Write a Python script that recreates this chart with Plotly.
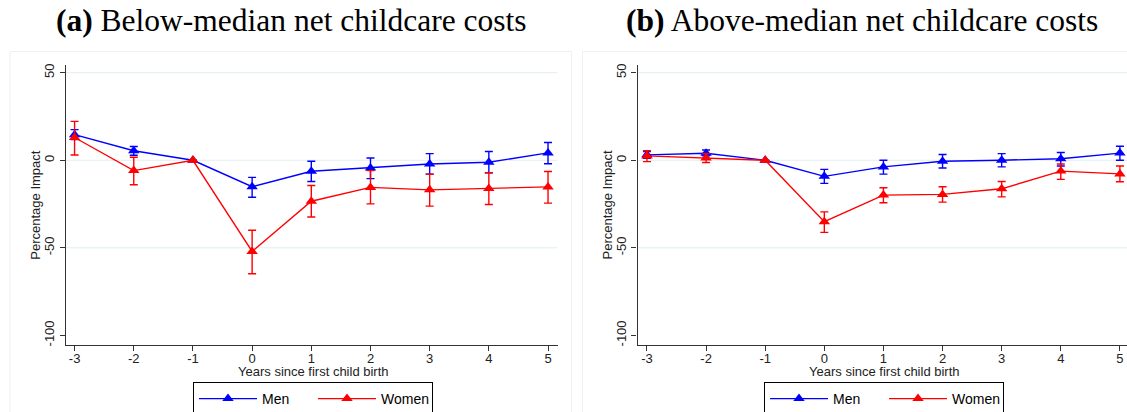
import plotly.graph_objects as go

# Event-study estimates (percentage impact) by years since first child birth
years = [-3, -2, -1, 0, 1, 2, 3, 4, 5]
x_ticks = [-3, -2, -1, 0, 1, 2, 3, 4, 5]
x_tick_labels = ["-3", "-2", "-1", "0", "1", "2", "3", "4", "5"]
y_ticks = [50, 0, -50, -100]
y_tick_labels = ["50", "0", "-50", "-100"]
grid_vals = [50, 0, -50]

# Panel (a): below-median net childcare costs
a_men = [14.6, 5.4, 0, -15.1, -6.3, -4.4, -2.1, -1.1, 4.2]
a_men_hi = [17.5, 7.9, 0, -9.8, -0.6, 1.3, 3.8, 5.0, 10.1]
a_men_lo = [11.8, 2.9, 0, -21.1, -12.1, -10.5, -7.9, -7.1, -2.0]
a_women = [13.0, -5.9, 0, -52.1, -23.4, -15.5, -16.9, -16.1, -15.2]
a_women_hi = [22.2, 1.7, 0, -40.0, -14.4, -5.9, -7.9, -7.1, -6.4]
a_women_lo = [3.0, -14.0, 0, -64.8, -32.4, -24.9, -26.2, -25.3, -24.5]

# Panel (b): above-median net childcare costs
b_men = [3.1, 4.0, 0, -9.2, -3.8, -0.6, 0.0, 0.9, 4.1]
b_men_hi = [5.0, 5.9, 0, -5.2, 0.0, 3.3, 3.8, 4.4, 8.0]
b_men_lo = [1.1, 2.5, 0, -13.2, -7.9, -4.4, -3.8, -3.3, 0.0]
b_women = [2.5, 1.3, 0, -35.1, -19.9, -19.5, -16.3, -6.2, -7.8]
b_women_hi = [5.4, 3.8, 0, -29.5, -15.7, -15.1, -12.1, -2.1, -3.3]
b_women_lo = [-0.8, -1.3, 0, -41.2, -24.3, -23.9, -20.9, -10.9, -12.3]

titles = ["<b>(a)</b> Below-median net childcare costs",
          "<b>(b)</b> Above-median net childcare costs"]
x_title = "Years since first child birth"
y_title = "Percentage Impact"
series_names = ["Men", "Women"]

BLUE = "#0000ff"
RED = "#ff0000"
W, H = 1127, 412
SANS = "Liberation Sans, Arial, sans-serif"
SERIF = "Liberation Serif, Times New Roman, serif"


def px(v):
    return v / W


def py(v):
    return 1 - v / H


panels = [
    dict(xa="x", ya="y", legend="legend", dom=[px(65.7), px(557.5)],
         xr=[-3.15, 5.16], data=[(a_men, a_men_hi, a_men_lo), (a_women, a_women_hi, a_women_lo)],
         title_x=54, frame=[10, 571.5], leg_x=313),
    dict(xa="x2", ya="y2", legend="legend2", dom=[px(637.5), 1.0],
         xr=[-3.16, 5.12], data=[(b_men, b_men_hi, b_men_lo), (b_women, b_women_hi, b_women_lo)],
         title_x=624, frame=[582.5, 1140], leg_x=884),
]

fig = go.Figure()

for p in panels:
    for (vals, hi, lo), name, col in zip(p["data"], series_names, [BLUE, RED]):
        fig.add_trace(go.Scatter(
            x=years, y=vals, name=name, mode="lines+markers",
            xaxis=p["xa"], yaxis=p["ya"], legend=p["legend"],
            line=dict(color=col, width=1.4),
            marker=dict(symbol="triangle-up", size=10, color=col),
            error_y=dict(type="data", symmetric=False,
                         array=[h - v for h, v in zip(hi, vals)],
                         arrayminus=[v - l for v, l in zip(vals, lo)],
                         color=col, thickness=1.4, width=4),
        ))

y_dom = [py(345), py(65)]
y_range = [-105.5, 54.4]

axis_common = dict(showgrid=False, zeroline=False, showline=True, linecolor="#333333",
                   linewidth=1.2, ticks="outside", ticklen=5, tickwidth=1.2,
                   tickcolor="#333333", tickfont=dict(family=SANS, size=13, color="#222222"))

layout = dict(width=W, height=H, margin=dict(l=0, r=0, t=0, b=0, autoexpand=False),
              paper_bgcolor="white", plot_bgcolor="white", showlegend=True)

shapes = []
annotations = []
for i, p in enumerate(panels):
    sfx = "" if i == 0 else "2"
    layout["xaxis" + sfx] = dict(axis_common, domain=p["dom"], range=p["xr"],
                                 tickvals=x_ticks, ticktext=x_tick_labels,
                                 ticklabelstandoff=-4, anchor="y" + sfx)
    layout["yaxis" + sfx] = dict(axis_common, domain=y_dom, range=y_range,
                                 tickvals=y_ticks, ticktext=y_tick_labels,
                                 tickangle=-90, anchor="x" + sfx)
    for g in grid_vals:
        shapes.append(dict(type="line", xref=p["xa"] + " domain", yref=p["ya"],
                           x0=0, x1=1, y0=g, y1=g, layer="below",
                           line=dict(color="#e2eef0", width=1)))
    # faint outline of each graph region
    shapes.append(dict(type="rect", xref="paper", yref="paper",
                       x0=px(p["frame"][0]), x1=px(p["frame"][1]), y0=py(440), y1=py(51.5),
                       layer="below", line=dict(color="#f0f0f0", width=1)))
    annotations.append(dict(text=titles[i], xref="paper", yref="paper",
                            x=px(p["title_x"]), y=py(21), xanchor="left", yanchor="middle",
                            showarrow=False, font=dict(family=SERIF, size=31.5, color="black")))
    annotations.append(dict(text=x_title, xref="paper", yref="paper",
                            x=px(p["leg_x"]), y=py(371),
                            xanchor="center", yanchor="middle", showarrow=False,
                            font=dict(family=SANS, size=13, color="#222222")))
    annotations.append(dict(text=y_title, xref="paper", yref="paper",
                            x=px(p["dom"][0] * W - 31), y=py(205), textangle=-90,
                            xanchor="center", yanchor="middle", showarrow=False,
                            font=dict(family=SANS, size=13, color="#222222")))

legend_common = dict(orientation="h", xanchor="center", yanchor="top", y=py(382),
                     bordercolor="black", borderwidth=1, bgcolor="white",
                     font=dict(family=SANS, size=14, color="black"),
                     itemwidth=58, entrywidth=46, tracegroupgap=0)
for i, p in enumerate(panels):
    layout[p["legend"]] = dict(legend_common, x=px(p["leg_x"]))
layout["shapes"] = shapes
layout["annotations"] = annotations

fig.update_layout(**layout)
fig.write_html("out.html")
